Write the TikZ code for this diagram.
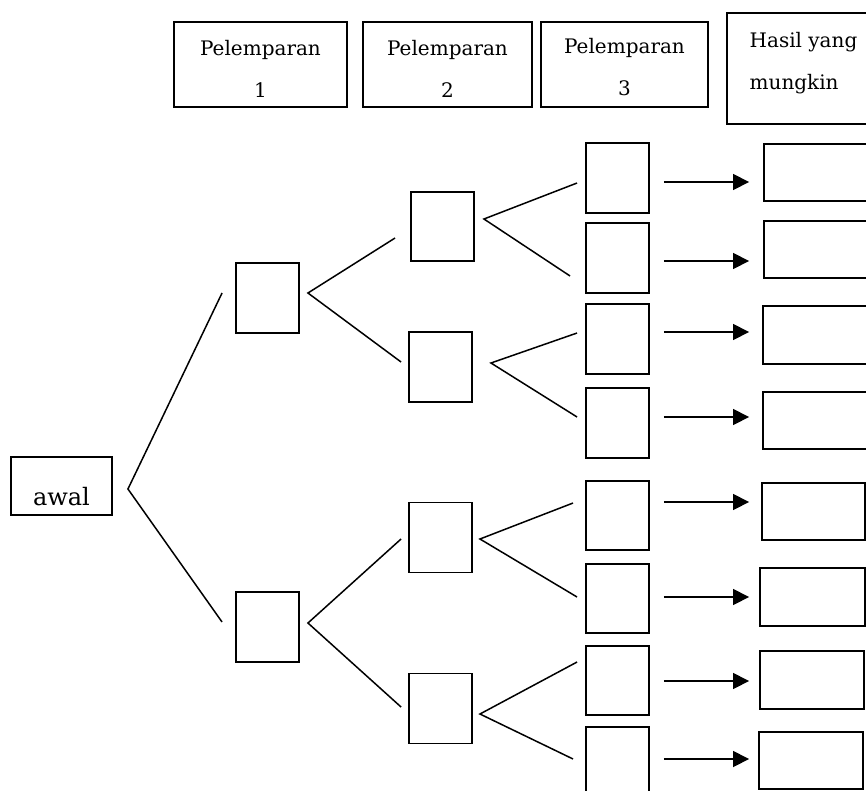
\documentclass[tikz,border=0pt]{standalone}
\usepackage{fontspec}
\setmainfont{DejaVu Serif}
\usetikzlibrary{arrows.meta}

\begin{document}
\begin{tikzpicture}[
        x=1pt, y=-1pt,
        font=\fontsize{20}{42}\selectfont,
        head/.style={draw, line width=1.9pt, minimum height=85pt, inner sep=0pt, align=center},
        cell/.style={draw, line width=1.9pt, minimum width=63pt, minimum height=70pt, inner sep=0pt},
        hasil/.style={draw, line width=1.9pt, minimum height=57pt, inner sep=0pt},
        branch/.style={line width=1.5pt},
        parr/.style={-{Triangle[length=16pt, width=16pt]}, line width=1.6pt}
    ]
    \clip (0,0) rectangle (866,790);

    % column headers
    \node[head, minimum width=173pt] (lem1) at (260.5,64.5) {\rule{0pt}{24pt}Pelemparan\\1};
    \node[head, minimum width=169pt] (lem2) at (447.5,64.5) {\rule{0pt}{24pt}Pelemparan\\2};
    \node[head, minimum width=167pt] (lem3) at (624.5,64.5) {\rule{0pt}{21pt}Pelemparan\\3};
    \node[head, minimum width=153pt, minimum height=111pt, align=left] (hsl) at (803.5,68.5)
        {Hasil yang\\mungkin\rule[-16pt]{0pt}{16pt}};

    % start
    \node[draw, line width=1.9pt, minimum width=101pt, minimum height=58pt, inner sep=0pt,
        font=\fontsize{24}{28}\selectfont, text height=38pt, text depth=0pt] (awal) at (61.5,486) {awal};

    % toss 1
    \node[cell] (p1a) at (267.5,298) {};
    \node[cell] (p1b) at (267.5,627) {};

    % toss 2
    \node[cell, minimum height=69pt] (p2a) at (442.5,226.5) {};
    \node[cell] (p2b) at (440.5,367) {};
    \node[cell] (p2c) at (440.5,537.5) {};
    \node[cell] (p2d) at (440.5,708.5) {};

    % toss 3
    \node[cell] (p3a) at (617.5,178) {};
    \node[cell] (p3b) at (617.5,258) {};
    \node[cell] (p3c) at (617.5,339) {};
    \node[cell] (p3d) at (617.5,423) {};
    \node[cell, minimum height=69pt] (p3e) at (617.5,515.5) {};
    \node[cell, minimum height=69pt] (p3f) at (617.5,598.5) {};
    \node[cell, minimum height=69pt] (p3g) at (617.5,680.5) {};
    \node[cell] (p3h) at (617.5,762) {};

    % outcomes
    \node[hasil, minimum width=116pt] (ha) at (822,172.5) {};
    \node[hasil, minimum width=116pt] (hb) at (822,249.5) {};
    \node[hasil, minimum width=117pt, minimum height=58pt] (hc) at (821.5,335) {};
    \node[hasil, minimum width=117pt] (hd) at (821.5,420.5) {};
    \node[hasil, minimum width=103pt] (he) at (813.5,511.5) {};
    \node[hasil, minimum width=105pt, minimum height=58pt] (hf) at (812.5,597) {};
    \node[hasil, minimum width=104pt, minimum height=58pt] (hg) at (812,680) {};
    \node[hasil, minimum width=104pt] (hh) at (811,760.5) {};

    % branches
    \draw[branch] ([shift={(-13,-5)}]p1a.west) -- ([shift={(15,3)}]awal.east) -- ([shift={(-13,-5)}]p1b.west);
    \draw[branch] ([shift={(-15,11.5)}]p2a.west) -- ([shift={(8,-5)}]p1a.east) -- ([shift={(-7,-5)}]p2b.west);
    \draw[branch] ([shift={(-7,1.5)}]p2c.west) -- ([shift={(8,-4)}]p1b.east) -- ([shift={(-7,-1.5)}]p2d.west);
    \draw[branch] ([shift={(-8,5)}]p3a.west) -- ([shift={(9,-7.5)}]p2a.east) -- ([shift={(-15,18)}]p3b.west);
    \draw[branch] ([shift={(-8,-6)}]p3c.west) -- ([shift={(18,-4)}]p2b.east) -- ([shift={(-8,-6)}]p3d.west);
    \draw[branch] ([shift={(-12,-12.5)}]p3e.west) -- ([shift={(7,1.5)}]p2c.east) -- ([shift={(-8,-1.5)}]p3f.west);
    \draw[branch] ([shift={(-8,-18.5)}]p3g.west) -- ([shift={(7,5.5)}]p2d.east) -- ([shift={(-12,-3)}]p3h.west);

    % arrows to outcomes
    \draw[parr] ([shift={(14,4)}]p3a.east) -- ([shift={(-14,9.5)}]ha.west);
    \draw[parr] ([shift={(14,3)}]p3b.east) -- ([shift={(-14,11.5)}]hb.west);
    \draw[parr] ([shift={(14,-7)}]p3c.east) -- ([shift={(-13,-3)}]hc.west);
    \draw[parr] ([shift={(14,-6)}]p3d.east) -- ([shift={(-13,-3.5)}]hd.west);
    \draw[parr] ([shift={(14,-13.5)}]p3e.east) -- ([shift={(-12,-9.5)}]he.west);
    \draw[parr] ([shift={(14,-1.5)}]p3f.east) -- ([shift={(-10,0)}]hf.west);
    \draw[parr] ([shift={(14,0.5)}]p3g.east) -- ([shift={(-10,1)}]hg.west);
    \draw[parr] ([shift={(14,-3)}]p3h.east) -- ([shift={(-9,-1.5)}]hh.west);
\end{tikzpicture}
\end{document}
